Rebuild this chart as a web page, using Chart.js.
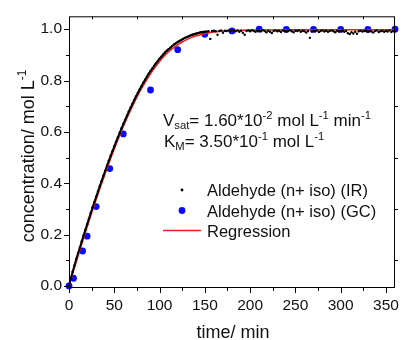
<!DOCTYPE html>
<html>
<head>
<meta charset="utf-8">
<script src="https://cdn.jsdelivr.net/npm/chart.js@4.4.1/dist/chart.umd.min.js"></script>
<style>
  html, body { margin: 0; background: #fff; }
  #wrap { width: 407px; height: 340px; }
</style>
</head>
<body>
<div id="wrap"><canvas id="chart"></canvas></div>
<script>
// Axis ticks
const X_TICKS = [0, 50, 100, 150, 200, 250, 300, 350];
const X_MINOR = [25, 75, 125, 175, 225, 275, 325];
const Y_TICKS = [0, 0.2, 0.4, 0.6, 0.8, 1.0];
const Y_MINOR = [0.1, 0.3, 0.5, 0.7, 0.9];

// Series labels
const LABEL_IR = "Aldehyde (n+ iso) (IR)";
const LABEL_GC = "Aldehyde (n+ iso) (GC)";
const LABEL_FIT = "Regression";

// IR trace, one reading every 2 min
const IR_TIME = [
  0, 2, 4, 6, 8, 10, 12, 14, 16, 18,
  20, 22, 24, 26, 28, 30, 32, 34, 36, 38,
  40, 42, 44, 46, 48, 50, 52, 54, 56, 58,
  60, 62, 64, 66, 68, 70, 72, 74, 76, 78,
  80, 82, 84, 86, 88, 90, 92, 94, 96, 98,
  100, 102, 104, 106, 108, 110, 112, 114, 116, 118,
  120, 122, 124, 126, 128, 130, 132, 134, 136, 138,
  140, 142, 144, 146, 148, 150,
  152, 154, 156, 158, 160, 162, 164, 166, 168, 170,
  172, 174, 176, 178, 180, 182, 184, 186, 188, 190,
  192, 194, 196, 198, 200, 202, 204, 206, 208, 210,
  212, 214, 216, 218, 220, 222, 224, 226, 228, 230,
  232, 234, 236, 238, 240, 242, 244, 246, 248, 250,
  252, 254, 256, 258, 260, 262, 264, 266, 268, 270,
  272, 274, 276, 278, 280, 282, 284, 286, 288, 290,
  292, 294, 296, 298, 300, 302, 304, 306, 308, 310,
  312, 314, 316, 318, 320, 322, 324, 326, 328, 330,
  332, 334, 336, 338, 340, 342, 344, 346, 348, 350,
  352, 354, 356, 358, 360,
];
const IR_CONC = [
  0.000, 0.030, 0.055, 0.080, 0.105, 0.128, 0.150, 0.173, 0.196, 0.218,
  0.240, 0.262, 0.284, 0.306, 0.327, 0.348, 0.368, 0.389, 0.409, 0.429,
  0.449, 0.469, 0.488, 0.507, 0.525, 0.544, 0.562, 0.579, 0.597, 0.614,
  0.631, 0.647, 0.663, 0.679, 0.694, 0.709, 0.724, 0.738, 0.752, 0.765,
  0.778, 0.791, 0.803, 0.815, 0.826, 0.837, 0.847, 0.857, 0.867, 0.876,
  0.885, 0.893, 0.901, 0.909, 0.916, 0.922, 0.928, 0.934, 0.940, 0.945,
  0.950, 0.954, 0.958, 0.962, 0.966, 0.969, 0.972, 0.975, 0.978, 0.980,
  0.982, 0.984, 0.986, 0.988, 0.989, 0.990,
  0.991, 0.992, 0.962, 0.993, 0.994, 0.992, 0.978, 0.993, 0.995, 0.986,
  0.994, 0.993, 0.995, 0.991, 0.996, 0.994, 0.992, 0.995, 0.990, 0.994,
  0.986, 0.978, 0.993, 0.995, 0.992, 0.996, 0.993, 0.990, 0.995, 0.994,
  0.992, 0.996, 0.993, 0.988, 0.994, 0.990, 0.985, 0.993, 0.995, 0.992,
  0.994, 0.989, 0.995, 0.993, 0.991, 0.994, 0.996, 0.992, 0.988, 0.994,
  0.993, 0.995, 0.990, 0.994, 0.992, 0.987, 0.993, 0.966, 0.991, 0.994,
  0.992, 0.995, 0.989, 0.993, 0.995, 0.991, 0.994, 0.990, 0.993, 0.995,
  0.992, 0.988, 0.994, 0.991, 0.993, 0.995, 0.990, 0.993, 0.984, 0.981,
  0.988, 0.983, 0.990, 0.982, 0.992, 0.994, 0.991, 0.993, 0.995, 0.990,
  0.993, 0.991, 0.987, 0.993, 0.995, 0.989, 0.992, 0.994, 0.990, 0.993,
  0.991, 0.995, 0.989, 0.993, 0.992,
];

// GC samples
const GC_TIME = [0, 5, 15, 20, 30, 45, 60, 90, 120, 150, 180, 210, 240, 270, 300, 330, 360];
const GC_CONC = [0.0, 0.030, 0.136, 0.194, 0.309, 0.457, 0.592, 0.763, 0.920, 0.980, 0.993, 1.0, 0.999, 0.999, 0.999, 0.999, 1.0];

// Fitted curve
const FIT_TIME = [0, 5, 10, 15, 20, 25, 30, 35, 40, 45, 50, 55, 60, 65, 70, 75, 80, 85, 90, 95,
  100, 105, 110, 115, 120, 125, 130, 135, 140, 145, 150, 160, 175, 200, 250, 300, 360];
const FIT_CONC = [0, 0.059, 0.1165, 0.173, 0.229, 0.284, 0.337, 0.388, 0.438, 0.487, 0.533, 0.578, 0.621, 0.661, 0.699, 0.735, 0.768, 0.798, 0.826, 0.851,
  0.874, 0.894, 0.912, 0.926, 0.939, 0.950, 0.959, 0.967, 0.973, 0.978, 0.983, 0.989, 0.994, 0.997, 0.998, 0.998, 0.998];

// Annotation lines: [text, mode]
const NOTE_VSAT = [["V", ""], ["sat", "sub"], ["= 1.60*10", ""], ["-2", "sup"], [" mol L", ""], ["-1", "sup"], [" min", ""], ["-1", "sup"]];
const NOTE_KM = [["K", ""], ["M", "sub"], ["= 3.50*10", ""], ["-1", "sup"], [" mol L", ""], ["-1", "sup"]];
const TITLE_X = [["time/ min", ""]];
const TITLE_Y = [["concentration/ mol L", ""], ["-1", "sup"]];

const FONT = '"Liberation Sans", Arial, sans-serif';
const INK = "#111";

const pts = (xs, ys) => xs.map((x, i) => ({ x, y: ys[i] }));

function drawRich(ctx, parts, x, y, size, align) {
  const fontOf = (m) => `${m ? size * 0.66 : size}px ${FONT}`;
  let w = 0;
  for (const [t, m] of parts) { ctx.font = fontOf(m); w += ctx.measureText(t).width; }
  let cx = align === "center" ? x - w / 2 : x;
  for (const [t, m] of parts) {
    ctx.font = fontOf(m);
    const dy = m === "sup" ? -size * 0.4 : m === "sub" ? size * 0.22 : 0;
    ctx.fillText(t, cx, y + dy);
    cx += ctx.measureText(t).width;
  }
}

const decor = {
  id: "decor",
  afterDatasetsDraw(chart) {
    const { ctx, chartArea: a, scales: { x, y } } = chart;
    ctx.save();
    ctx.strokeStyle = "#000";
    ctx.lineWidth = 1;
    ctx.strokeRect(a.left + 0.5, a.top + 0.5, a.right - a.left - 1, a.bottom - a.top - 1);
    ctx.beginPath();
    // bottom ticks, outward
    for (const v of X_TICKS) { const px = Math.round(x.getPixelForValue(v)) + 0.5; ctx.moveTo(px, a.bottom); ctx.lineTo(px, a.bottom + 5); }
    for (const v of X_MINOR) { const px = Math.round(x.getPixelForValue(v)) + 0.5; ctx.moveTo(px, a.bottom); ctx.lineTo(px, a.bottom + 3); }
    // top ticks, inward
    for (const v of X_MINOR) { const px = Math.round(x.getPixelForValue(v)) + 0.5; ctx.moveTo(px, a.top); ctx.lineTo(px, a.top + 3); }
    // left ticks, outward
    for (const v of Y_TICKS) { const py = Math.round(y.getPixelForValue(v)) + 0.5; ctx.moveTo(a.left, py); ctx.lineTo(a.left - 5, py); }
    for (const v of Y_MINOR) { const py = Math.round(y.getPixelForValue(v)) + 0.5; ctx.moveTo(a.left, py); ctx.lineTo(a.left - 3, py); }
    // right ticks, outward
    for (const v of Y_MINOR) { const py = Math.round(y.getPixelForValue(v)) + 0.5; ctx.moveTo(a.right, py); ctx.lineTo(a.right + 3, py); }
    ctx.stroke();
    ctx.restore();
  },
  afterDraw(chart) {
    const { ctx, chartArea: a } = chart;
    ctx.save();
    ctx.fillStyle = INK;
    ctx.textAlign = "left";
    ctx.textBaseline = "alphabetic";

    // axis titles
    drawRich(ctx, TITLE_X, (a.left + a.right) / 2 + 1, 338, 18, "center");
    ctx.save();
    ctx.translate(33.5, 156);
    ctx.rotate(-Math.PI / 2);
    drawRich(ctx, TITLE_Y, 0, 0, 18, "center");
    ctx.restore();

    // kinetic constants
    drawRich(ctx, NOTE_VSAT, 163, 125.5, 17, "left");
    drawRich(ctx, NOTE_KM, 164, 146.5, 17, "left");

    // legend
    const ds = chart.data.datasets;
    ctx.fillStyle = ds[0].backgroundColor;
    ctx.beginPath(); ctx.arc(182, 190, 1.4, 0, Math.PI * 2); ctx.fill();
    ctx.fillStyle = ds[2].backgroundColor;
    ctx.beginPath(); ctx.arc(182, 210.5, 3.4, 0, Math.PI * 2); ctx.fill();
    ctx.strokeStyle = ds[1].borderColor;
    ctx.lineWidth = ds[1].borderWidth;
    ctx.beginPath(); ctx.moveTo(163, 230.5); ctx.lineTo(201, 230.5); ctx.stroke();
    ctx.fillStyle = INK;
    ctx.font = `16.5px ${FONT}`;
    ctx.fillText(LABEL_IR, 207, 196);
    ctx.fillText(LABEL_GC, 207, 216.5);
    ctx.fillText(LABEL_FIT, 207, 236.5);
    ctx.restore();
  },
};

new Chart(document.getElementById("chart"), {
  type: "scatter",
  data: {
    datasets: [
      {
        label: LABEL_IR,
        data: pts(IR_TIME, IR_CONC),
        showLine: true,
        borderColor: "#000",
        borderWidth: 1.9,
        segment: { borderColor: (c) => (c.p0.parsed.x >= 150 ? "rgba(0,0,0,0)" : "#000") },
        backgroundColor: "#000",
        pointRadius: 1.2,
        pointBorderWidth: 0,
        clip: false,
      },
      {
        label: LABEL_FIT,
        data: pts(FIT_TIME, FIT_CONC),
        showLine: true,
        borderColor: "#f21d1d",
        borderWidth: 1.5,
        cubicInterpolationMode: "monotone",
        pointRadius: 0,
        clip: false,
      },
      {
        label: LABEL_GC,
        data: pts(GC_TIME, GC_CONC),
        backgroundColor: "#0a0aff",
        pointRadius: 3.4,
        pointBorderWidth: 0,
        clip: false,
      },
    ],
  },
  options: {
    responsive: true,
    maintainAspectRatio: false,
    animation: false,
    devicePixelRatio: 1,
    layout: { padding: { top: 14, right: 4, left: 0, bottom: 0 } },
    plugins: { legend: { display: false }, tooltip: { enabled: false } },
    scales: {
      x: {
        type: "linear",
        min: 0,
        max: 360,
        afterBuildTicks: (s) => { s.ticks = X_TICKS.map((v) => ({ value: v })); },
        afterFit: (s) => { s.height = 52; },
        grid: { display: false, drawTicks: false },
        border: { display: false },
        ticks: { color: INK, font: { family: FONT, size: 15.5 }, padding: 8, maxRotation: 0, autoSkip: false, callback: (v) => String(v) },
      },
      y: {
        min: -0.008,
        max: 1.05,
        afterBuildTicks: (s) => { s.ticks = Y_TICKS.map((v) => ({ value: v })); },
        afterFit: (s) => { s.width = 69; },
        grid: { display: false, drawTicks: false },
        border: { display: false },
        ticks: { color: INK, font: { family: FONT, size: 15.5 }, padding: 7, callback: (v) => v.toFixed(1) },
      },
    },
  },
  plugins: [decor],
});
</script>
</body>
</html>
